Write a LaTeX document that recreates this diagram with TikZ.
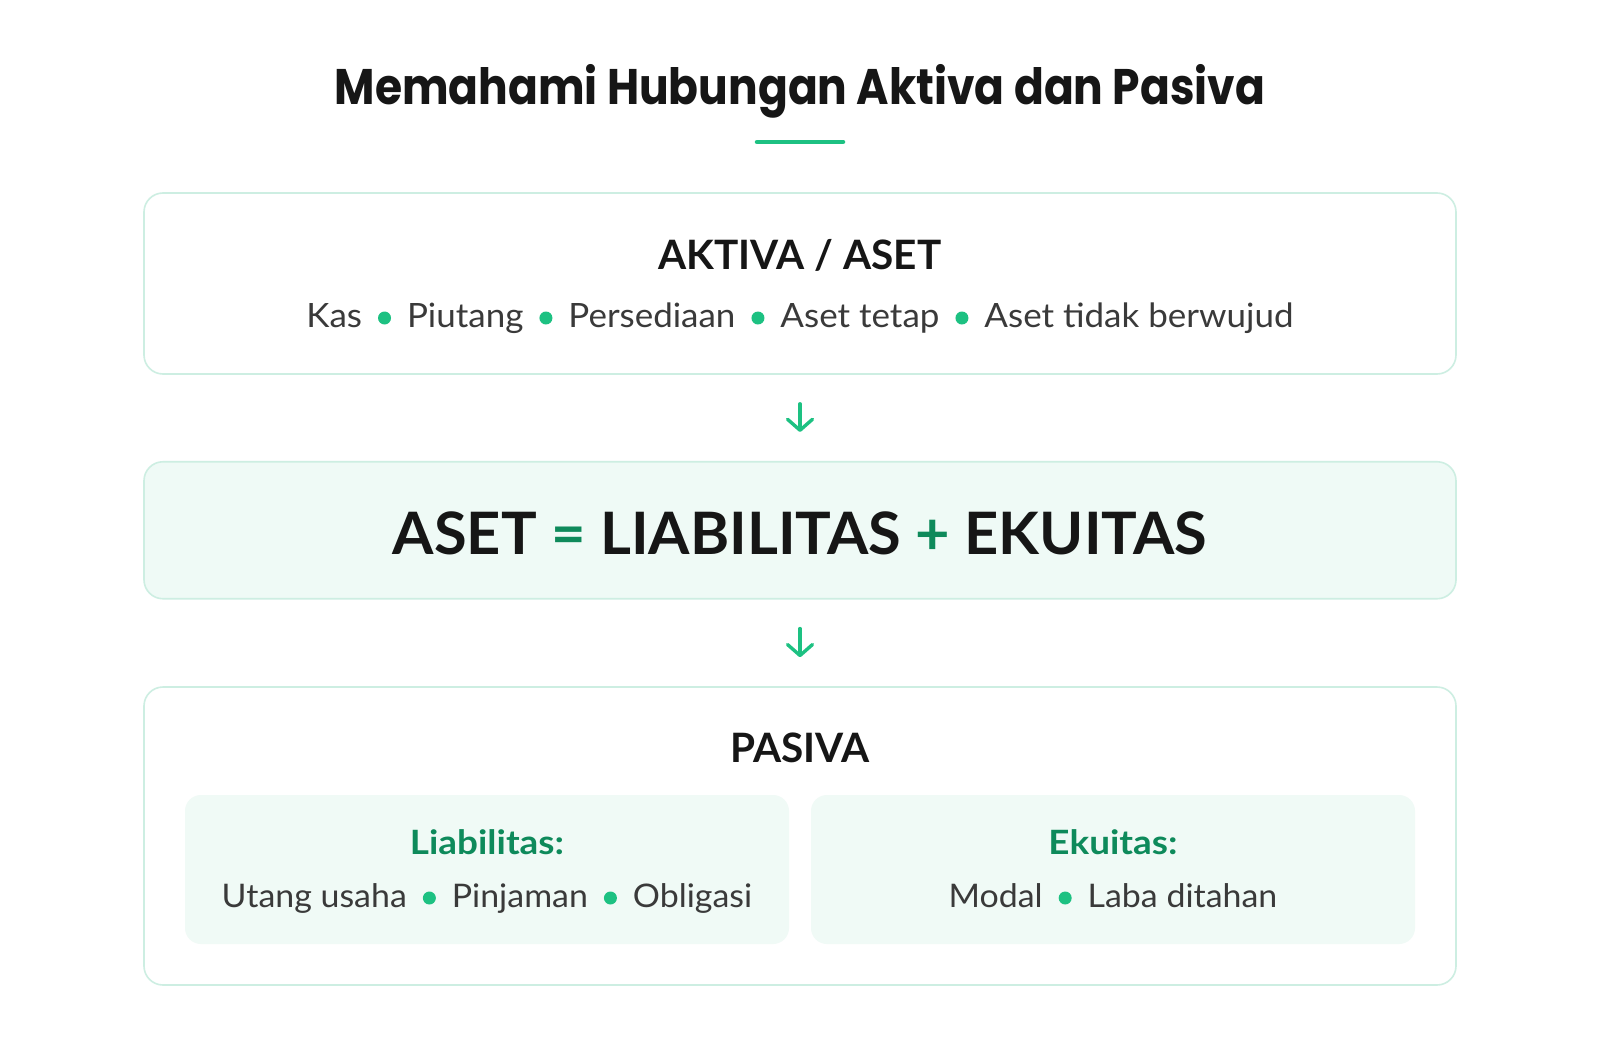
\documentclass[tikz,border=0pt]{standalone}
\usepackage{fontspec}
\setmainfont{Lato}
\newfontfamily\titlefont{Poppins}[FakeStretch=0.88]
\newfontfamily\itemfont{Lato}[FakeStretch=1.044]
\newfontfamily\subfont{Lato}[FakeStretch=1.1]
\newfontfamily\eqfont{Lato}[FakeStretch=1.018]
\usetikzlibrary{arrows.meta}
\definecolor{brd}{HTML}{CDEEE2}
\definecolor{softfill}{HTML}{EFFAF6}
\definecolor{innerfill}{HTML}{F0FAF6}
\definecolor{brightgreen}{HTML}{1DC182}
\definecolor{darkgreen}{HTML}{0E8A5B}
\definecolor{ink}{HTML}{161616}
\definecolor{greytext}{HTML}{3A3A3A}
\newcommand\gdot{\hspace{16pt}\tikz[baseline=0pt]\fill[brightgreen] (0pt,9pt) circle (6.5pt);\hspace{16pt}}
\tikzset{
  panel/.style={draw=brd, line width=1.6pt, rounded corners=19pt, minimum width=1312pt, inner sep=0pt},
  innerpanel/.style={fill=innerfill, draw=none, rounded corners=16pt, minimum width=604pt, minimum height=149pt, inner sep=0pt},
  heading/.style={anchor=base, inner sep=0pt, text=ink, font=\fontsize{40.5}{48}\selectfont\bfseries},
  items/.style={anchor=base, inner sep=0pt, text=greytext, font=\itemfont\fontsize{33.5}{40}\selectfont},
  subitems/.style={anchor=base, inner sep=0pt, text=greytext, font=\itemfont\fontsize{32.5}{40}\selectfont},
  subhead/.style={anchor=base, inner sep=0pt, text=darkgreen, font=\subfont\fontsize{33.5}{40}\selectfont\bfseries},
  flowarrow/.style={draw=brightgreen, line width=3.4pt, line cap=round, -{Straight Barb[length=11pt, width=25pt, line width=3.4pt, round]}}
}
\begin{document}
\begin{tikzpicture}[x=1pt,y=-1pt]
\useasboundingbox[fill=white] (0,0) rectangle (1600,1054);
% title
\node[anchor=base, inner sep=0pt, text=ink, font=\titlefont\fontsize{50}{60}\selectfont\bfseries] (title) at (800,105) {Memahami Hubungan Aktiva dan Pasiva};
\coordinate (ulL) at (757,142);
\coordinate (ulR) at (843,142);
\draw[brightgreen, line width=4.5pt, line cap=round] (ulL) -- (ulR);
% box 1
\node[panel, fill=white, minimum height=181pt] (box1) at (800,283.5) {};
\node[heading] (aktiva) at (800,269) {AKTIVA / ASET};
\node[items] (aktivaitems) at (800,327) {Kas\gdot Piutang\gdot Persediaan\gdot Aset tetap\gdot Aset tidak berwujud};
% box 2
\node[panel, fill=softfill, minimum height=137pt] (box2) at (800,530.25) {};
\node[anchor=base, inner sep=0pt, text=ink, font=\eqfont\fontsize{58.5}{70}\selectfont\bfseries] (eq) at (800,554) {ASET \textcolor{darkgreen}{=} LIABILITAS \textcolor{darkgreen}{+} EKUITAS};
% box 3
\node[panel, fill=white, minimum height=298pt] (box3) at (800,836) {};
\node[heading] (pasiva) at (800,762.5) {PASIVA};
\node[innerpanel] (liab) at (487,869.5) {};
\node[innerpanel] (ekui) at (1113,869.5) {};
\node[subhead] (liabhead) at (487,854) {Liabilitas:};
\node[subitems] (liabitems) at (487,907) {Utang usaha\gdot Pinjaman\gdot Obligasi};
\node[subhead] (ekuihead) at (1113,854) {Ekuitas:};
\node[subitems] (ekuiitems) at (1113,907) {Modal\gdot Laba ditahan};
% arrows
\draw[flowarrow] ([yshift=-29pt]box1.south) -- ([yshift=29pt]box2.north);
\draw[flowarrow] ([yshift=-29pt]box2.south) -- ([yshift=29pt]box3.north);
\end{tikzpicture}
\end{document}
